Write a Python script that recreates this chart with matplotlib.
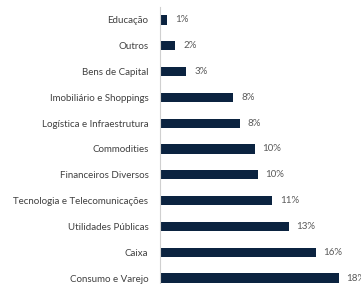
import numpy as np
import matplotlib
matplotlib.use('Agg')
import matplotlib.pyplot as plt

# Setores e participacao (%)
setores = ['Educação', 'Outros', 'Bens de Capital', 'Imobiliário e Shoppings',
           'Logística e Infraestrutura', 'Commodities', 'Financeiros Diversos',
           'Tecnologia e Telecomunicações', 'Utilidades Públicas', 'Caixa',
           'Consumo e Varejo']
pesos = [0.81, 1.62, 2.74, 7.51, 8.15, 9.68, 9.95, 11.44, 13.13, 15.84, 18.2]

COR_BARRA = '#0b2340'
COR_TEXTO = '#404040'

plt.rcParams['font.family'] = ['Lato', 'DejaVu Sans']

fig = plt.figure(figsize=(3.61, 2.84), dpi=100)
ax = fig.add_axes([159.5 / 361, -7 / 284, 200 / 361, 284 / 284])

y = np.arange(len(setores))
barras = ax.barh(y, pesos, height=0.36, color=COR_BARRA)
ax.bar_label(barras, labels=[f'{round(p):.0f}%' for p in pesos],
             padding=5.5, fontsize=7, color='#595959')

ax.set_ylim(len(setores) - 0.5, -0.5)
ax.set_xlim(0, 200 / 9.85)
ax.set_yticks(y)
ax.set_yticklabels(setores, fontsize=7, color=COR_TEXTO)
ax.tick_params(axis='y', length=0, pad=8)
ax.set_xticks([])

for lado in ['top', 'right', 'bottom']:
    ax.spines[lado].set_visible(False)
ax.spines['left'].set_color('#d0d0d0')
ax.spines['left'].set_linewidth(0.8)

fig.savefig('out.png', dpi=100)
